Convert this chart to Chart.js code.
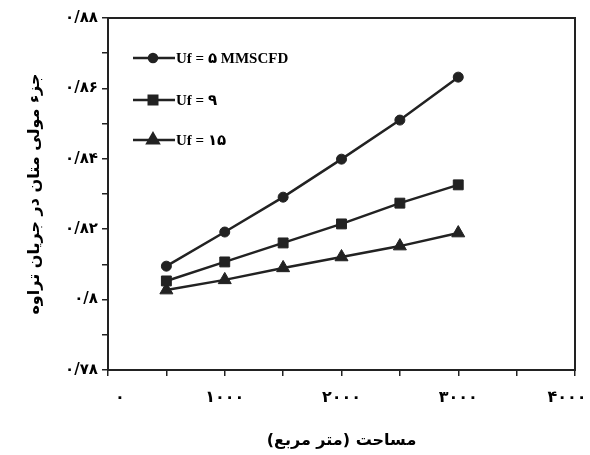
<!DOCTYPE html>
<html>
<head>
<meta charset="utf-8">
<script src="https://cdn.jsdelivr.net/npm/chart.js@4"></script>
<style>
  html, body { margin: 0; padding: 0; background: #fff; }
  #wrap { width: 590px; height: 455px; }
</style>
</head>
<body>
<div id="wrap"><canvas id="myChart" width="590" height="455"></canvas></div>
<script>
// data
const areas = [500, 1000, 1500, 2000, 2500, 3000];
const uf5 = [0.8095, 0.8192, 0.8291, 0.8399, 0.8510, 0.8632];
const uf9 = [0.8053, 0.8107, 0.8161, 0.8215, 0.8274, 0.8326];
const uf15 = [0.8027, 0.8056, 0.8090, 0.8121, 0.8152, 0.8189];
const seriesLabels = ['Uf = ۵ MMSCFD', 'Uf = ۹', 'Uf = ۱۵'];
const yTickLabels = { 78: '۰/۷۸', 80: '۰/۸', 82: '۰/۸۲', 84: '۰/۸۴', 86: '۰/۸۶', 88: '۰/۸۸' };
// the end labels sit a bit inside the box in the original, em spaces nudge them
const xTickLabels = { 0: '\u2003\u2002۰', 1000: '۱۰۰۰', 2000: '۲۰۰۰', 3000: '۳۰۰۰', 4000: '۴۰۰۰\u2003' };

const ink = '#222';

function pts(ys) {
    return areas.map((x, i) => ({ x: x, y: ys[i] }));
}

// box around the plot + legend inside the plot
const boxAndLegend = {
    id: 'boxAndLegend',
    afterDraw(chart) {
        const ctx = chart.ctx;
        const a = chart.chartArea;
        ctx.save();
        ctx.strokeStyle = ink;
        ctx.lineWidth = 2;
        ctx.strokeRect(a.left, a.top, a.right - a.left, a.bottom - a.top);

        const rows = [58, 100, 140];
        chart.data.datasets.forEach((ds, i) => {
            const y = rows[i];
            ctx.strokeStyle = ink;
            ctx.lineWidth = 2.5;
            ctx.beginPath();
            ctx.moveTo(133, y);
            ctx.lineTo(175, y);
            ctx.stroke();
            ctx.fillStyle = ink;
            Chart.helpers.drawPoint(ctx, {
                pointStyle: ds.pointStyle,
                radius: ds.pointRadius - 1,
                borderWidth: 1,
                rotation: 0
            }, 153, y);
            ctx.font = 'bold 15px "Liberation Serif", "DejaVu Sans", serif';
            ctx.textBaseline = 'middle';
            ctx.textAlign = 'left';
            ctx.fillStyle = '#000';
            ctx.fillText(ds.label, 176, y + 1);
        });
        ctx.restore();
    }
};

function mkDataset(label, ys, style, r) {
    return {
        label: label,
        data: pts(ys),
        borderColor: ink,
        backgroundColor: ink,
        borderWidth: 2.5,
        pointStyle: style,
        pointRadius: r,
        pointBorderWidth: 1,
        tension: 0
    };
}

new Chart('myChart', {
    type: 'line',
    data: {
        datasets: [
            mkDataset(seriesLabels[0], uf5, 'circle', 5),
            mkDataset(seriesLabels[1], uf9, 'rect', 7),
            mkDataset(seriesLabels[2], uf15, 'triangle', 7.5)
        ]
    },
    options: {
        responsive: false,
        animation: false,
        layout: { padding: { top: 18, right: 15, left: 0, bottom: 0 } },
        plugins: {
            legend: { display: false },
            tooltip: { enabled: false }
        },
        scales: {
            x: {
                type: 'linear',
                min: 0,
                max: 4000,
                afterFit: (s) => { s.height = 85; s.paddingLeft = 0; s.paddingRight = 0; },
                border: { display: false },
                grid: { drawOnChartArea: false, color: ink, lineWidth: 1.5, tickLength: 6 },
                ticks: {
                    stepSize: 500,
                    color: '#000',
                    padding: 12,
                    maxRotation: 0,
                    autoSkip: false,
                    font: { family: 'DejaVu Sans', size: 16, weight: 'bold' },
                    callback: (v) => xTickLabels[v] || ''
                },
                title: {
                    display: true,
                    text: 'مساحت (متر مربع)',
                    color: '#000',
                    font: { family: 'DejaVu Sans', size: 16, weight: 'bold' },
                    padding: { top: 0, bottom: 5 }
                }
            },
            y: {
                type: 'linear',
                min: 0.78,
                max: 0.88,
                afterFit: (s) => { s.width = 108; s.paddingTop = 0; s.paddingBottom = 0; },
                border: { display: false },
                grid: { drawOnChartArea: false, color: ink, lineWidth: 1.5, tickLength: 6 },
                ticks: {
                    stepSize: 0.01,
                    color: '#000',
                    padding: 4,
                    autoSkip: false,
                    font: { family: 'DejaVu Sans', size: 15, weight: 'bold' },
                    callback: (v) => yTickLabels[Math.round(v * 100)] || ''
                },
                title: {
                    display: true,
                    text: 'جزء مولی متان در جریان تراوه',
                    color: '#000',
                    font: { family: 'DejaVu Sans', size: 16, weight: 'bold' },
                    padding: { top: 25, bottom: 0 }
                }
            }
        }
    },
    plugins: [boxAndLegend]
});
</script>
</body>
</html>
